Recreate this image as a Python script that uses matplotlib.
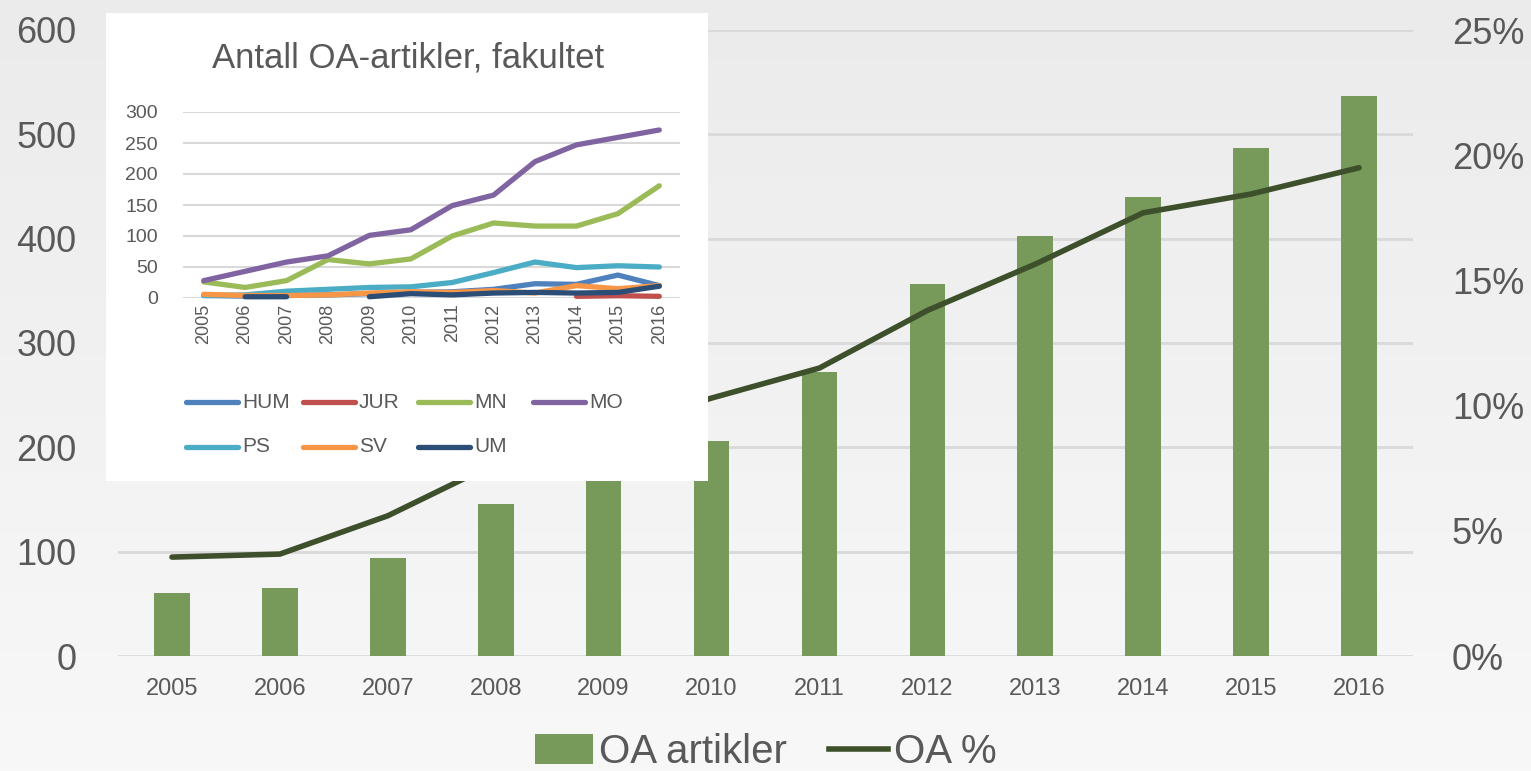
import matplotlib
matplotlib.use("Agg")
import matplotlib.pyplot as plt
import numpy as np
from matplotlib.patches import Rectangle, Patch
from matplotlib.lines import Line2D
from matplotlib.colors import LinearSegmentedColormap

plt.rcParams['font.family'] = ['Liberation Sans', 'DejaVu Sans']

years = ['2005', '2006', '2007', '2008', '2009', '2010', '2011', '2012', '2013', '2014', '2015', '2016']
oa_articles = [60, 65, 94, 146, 175, 206, 272, 357, 403, 440, 487, 537]
oa_percent = [3.95, 4.07, 5.6, 7.7, 9.0, 10.3, 11.5, 13.8, 15.65, 17.7, 18.45, 19.5]

faculties = ['HUM', 'JUR', 'MN', 'MO', 'PS', 'SV', 'UM']
fac_colors = ['#4f81bd', '#c0504d', '#9bbb59', '#8064a2', '#4bacc6', '#f79646', '#2c4d75']
nan = np.nan
hum = [4, 3, 4, 5, 7, 9, 10, 14, 23, 22, 37, 20]
jur = [nan, nan, nan, nan, nan, nan, nan, nan, nan, 2.7, 3.7, 2.7]
mn = [26, 17, 28, 62, 55, 63, 100, 121, 116, 116, 136, 181]
mo = [28, 43, 58, 68, 101, 110, 149, 166, 220, 247, 259, 271]
ps = [4, 5, 11, 14, 17, 18, 25, 41, 58, 49, 52, 50]
sv = [6, 4, 4, 5, 8, 10, 9, 12, 8, 20, 15, 20]
um = [nan, 2, 2, nan, 2, 7, 5, 8, 9, 8, 9, 19]
fac_values = [hum, jur, mn, mo, ps, sv, um]

W, H = 1531, 771
fig = plt.figure(figsize=(W / 100, H / 100), dpi=100)

def fx(px):
    return px / W

def fy(py):
    return (H - py) / H

# background gradient
bg = fig.add_axes([0, 0, 1, 1], zorder=-10)
grad = np.linspace(0, 1, 256).reshape(-1, 1)
cmap = LinearSegmentedColormap.from_list('bg', ['#ebebeb', '#f8f8f8'])
bg.imshow(grad, aspect='auto', cmap=cmap, extent=[0, 1, 0, 1], origin='upper')
bg.axis('off')

text_color = '#595959'

# main axes
ax = fig.add_axes([fx(118), fy(656), fx(1413) - fx(118), fy(30) - fy(656)])
ax.patch.set_alpha(0)
x = np.arange(len(years))
ax.bar(x, oa_articles, width=0.33, color='#77995a', zorder=2)
ax.set_xlim(-0.5, len(years) - 0.5)
ax.set_ylim(0, 600)
ax.set_yticks(range(0, 601, 100))
ax.yaxis.grid(True, color='#d9d9d9', linewidth=2, zorder=0)
ax.set_axisbelow(True)
for s in ax.spines.values():
    s.set_visible(False)
ax.set_xticks(x)
ax.set_xticklabels(years, fontsize=17, color=text_color)
ax.tick_params(axis='both', length=0)
ax.tick_params(axis='x', pad=16)
ax.tick_params(axis='y', labelsize=26, labelcolor=text_color, pad=30)

ax2 = ax.twinx()
ax2.plot(x, oa_percent, color='#3d4f2b', linewidth=4, solid_capstyle='round', solid_joinstyle='round', zorder=3)
ax2.set_ylim(0, 25)
ax2.set_yticks(range(0, 26, 5))
ax2.set_yticklabels([f'{v}%' for v in range(0, 26, 5)])
ax2.tick_params(axis='y', length=0, labelsize=26, labelcolor=text_color, pad=28)
for s in ax2.spines.values():
    s.set_visible(False)

handles = [Patch(facecolor='#77995a'), Line2D([0], [0], color='#3d4f2b', linewidth=4)]
fig.legend(handles, ['OA artikler', 'OA %'], loc='center', bbox_to_anchor=(0.5, fy(752)),
           ncol=2, frameon=False, fontsize=29, labelcolor=text_color,
           handlelength=1.45, handleheight=0.75, handletextpad=0.15, columnspacing=1.05)

# inset white panel
panel = Rectangle((fx(106), fy(481)), fx(708) - fx(106), fy(13) - fy(481),
                  transform=fig.transFigure, facecolor='white', edgecolor='none', zorder=5)
fig.patches.append(panel)
fig.text(fx(408), fy(58), 'Antall OA-artikler, fakultet', ha='center', va='center',
         fontsize=25, color=text_color, zorder=6)

ins = fig.add_axes([fx(183), fy(298), fx(680) - fx(183), fy(112) - fy(298)], zorder=6)
ins.patch.set_alpha(0)
for name, vals, col in zip(faculties, fac_values, fac_colors):
    ins.plot(x, vals, color=col, linewidth=3.8, solid_capstyle='round', solid_joinstyle='round',
             label=name, clip_on=False)
ins.set_xlim(-0.5, len(years) - 0.5)
ins.set_ylim(0, 300)
ins.set_yticks(range(0, 301, 50))
ins.yaxis.grid(True, color='#d9d9d9', linewidth=1.5)
ins.set_axisbelow(True)
for s in ins.spines.values():
    s.set_visible(False)
ins.set_xticks(x)
ins.set_xticklabels(years, rotation=90, fontsize=13, color=text_color)
ins.tick_params(axis='both', length=0)
ins.tick_params(axis='y', labelsize=14, labelcolor=text_color, pad=18)
ins.tick_params(axis='x', pad=4)

# inset legend (Excel-style fixed columns)
col_x = [183, 300, 415, 530]
row_y = [402, 447]
for i, (name, col) in enumerate(zip(faculties, fac_colors)):
    r, c = divmod(i, 4)
    x0 = col_x[c]
    y0 = row_y[r]
    fig.add_artist(Line2D([fx(x0 + 3), fx(x0 + 55)], [fy(y0), fy(y0)], transform=fig.transFigure,
                          color=col, linewidth=3.8, solid_capstyle='round', zorder=7))
    fig.text(fx(x0 + 59), fy(y0), name, ha='left', va='center', fontsize=15,
             color=text_color, zorder=7)

fig.savefig('out.png', dpi=100)
